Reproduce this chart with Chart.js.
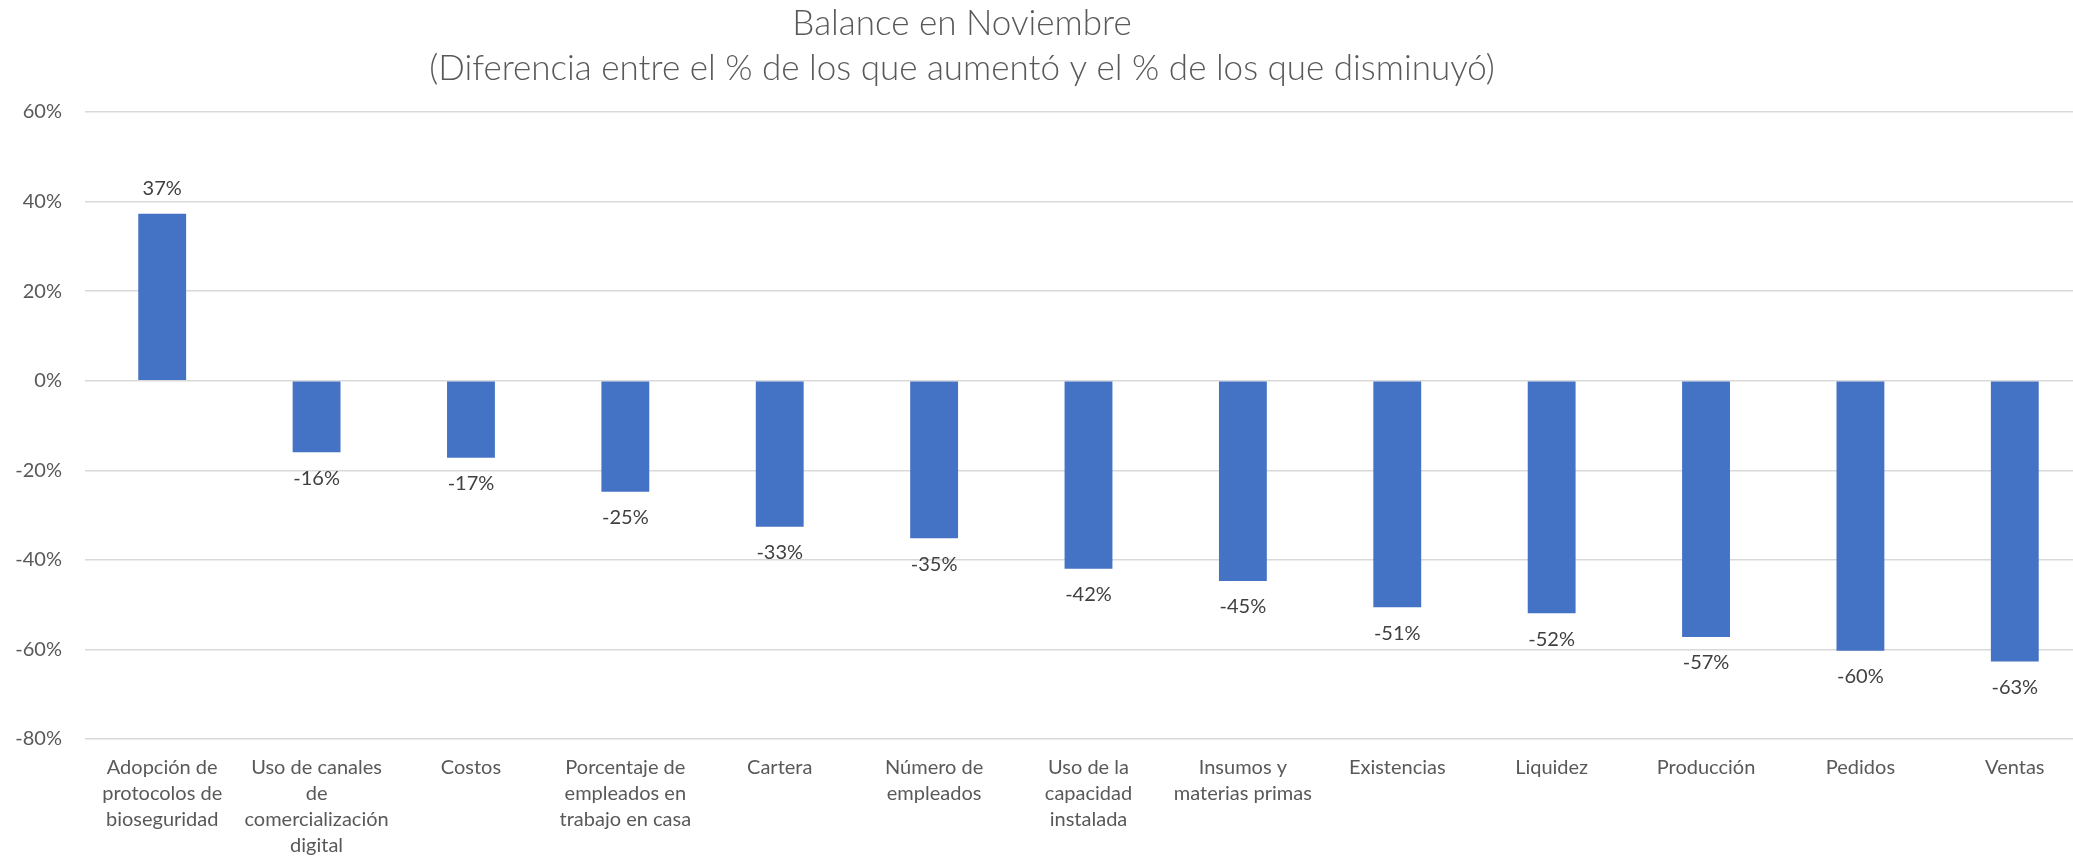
<!DOCTYPE html>
<html><head><meta charset="utf-8">
<script src="https://cdn.jsdelivr.net/npm/chart.js@4.4.1/dist/chart.umd.min.js"></script>
<style>
html,body{margin:0;padding:0;background:#fff;overflow:hidden;width:2073px;height:856px}
#wrap{position:absolute;left:0;top:0;width:2092px;height:856px}
</style></head>
<body><div id="wrap"><canvas id="c" width="2092" height="856"></canvas></div>
<script>
const titleLines = ['Balance en Noviembre', '(Diferencia entre el % de los que aumentó y el % de los que disminuyó)'];
const categories = [
  ['Adopción de', 'protocolos de', 'bioseguridad'],
  ['Uso de canales', 'de', 'comercialización', 'digital'],
  'Costos',
  ['Porcentaje de', 'empleados en', 'trabajo en casa'],
  'Cartera',
  ['Número de', 'empleados'],
  ['Uso de la', 'capacidad', 'instalada'],
  ['Insumos y', 'materias primas'],
  'Existencias',
  'Liquidez',
  'Producción',
  'Pedidos',
  'Ventas'
];
const values = [37.3, -16.0, -17.2, -24.8, -32.6, -35.2, -42.0, -44.7, -50.6, -51.9, -57.2, -60.3, -62.7];
const yMin = -80, yMax = 60, yStep = 20;

const FONT = 'Lato, "Open Sans", sans-serif';

const titlePlugin = {
  id: 'excelTitle',
  afterDraw(chart) {
    const ctx = chart.ctx;
    ctx.save();
    ctx.fillStyle = '#595959';
    ctx.font = '300 35px ' + FONT;
    ctx.textAlign = 'center';
    ctx.textBaseline = 'middle';
    ctx.fillText(titleLines[0], 962, 24);
    ctx.fillText(titleLines[1], 962, 69);
    ctx.restore();
  }
};

const labelPlugin = {
  id: 'barLabels',
  afterDatasetsDraw(chart) {
    const ctx = chart.ctx;
    const meta = chart.getDatasetMeta(0);
    ctx.save();
    ctx.fillStyle = '#404040';
    ctx.font = '20px ' + FONT;
    ctx.textAlign = 'center';
    ctx.textBaseline = 'middle';
    meta.data.forEach((el, i) => {
      const v = values[i];
      const y = v >= 0 ? el.y - 25 : el.y + 26;
      ctx.fillText(Math.round(v) + '%', el.x, y);
    });
    ctx.restore();
  }
};

new Chart(document.getElementById('c'), {
  type: 'bar',
  data: {
    labels: categories,
    datasets: [{
      data: values,
      backgroundColor: '#4472C4',
      borderWidth: 0,
      barPercentage: 0.31,
      categoryPercentage: 1.0
    }]
  },
  options: {
    responsive: false,
    animation: false,
    devicePixelRatio: 1,
    layout: { padding: { top: 112, left: 0, right: 0, bottom: 0 } },
    plugins: { legend: { display: false }, title: { display: false }, tooltip: { enabled: false } },
    scales: {
      x: {
        offset: true,
        grid: { display: false, drawTicks: false },
        border: { display: false },
        ticks: {
          color: '#595959',
          font: { family: FONT, size: 20, lineHeight: 1.3 },
          padding: 16,
          maxRotation: 0,
          autoSkip: false
        },
        afterFit(s) { s.height = 117; }
      },
      y: {
        min: yMin,
        max: yMax,
        grid: { color: '#D9D9D9', lineWidth: 1.5, drawTicks: false },
        border: { display: false },
        ticks: {
          stepSize: yStep,
          color: '#595959',
          font: { family: FONT, size: 20 },
          padding: 23,
          callback: v => v + '%'
        },
        afterFit(s) { s.width = 85; }
      }
    }
  },
  plugins: [titlePlugin, labelPlugin]
});
</script>
</body></html>
